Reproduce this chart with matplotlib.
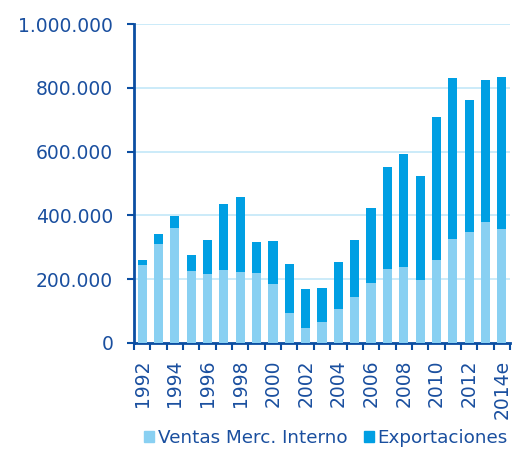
import numpy as np
import matplotlib.pyplot as plt
from matplotlib.ticker import FuncFormatter, MultipleLocator
from matplotlib.patches import Patch

years = [
    "1992", "1993", "1994", "1995", "1996", "1997", "1998", "1999", "2000",
    "2001", "2002", "2003", "2004", "2005", "2006", "2007", "2008", "2009",
    "2010", "2011", "2012", "2013", "2014e",
]
ventas_interno = [
    243000, 310000, 360000, 225000, 215000, 228000, 222000, 220000, 185000,
    95000, 48000, 66000, 108000, 144000, 188000, 233000, 238000, 198000,
    261000, 325000, 348000, 379000, 357000,
]
total = [
    259000, 341000, 398000, 276000, 323000, 437000, 457000, 318000, 321000,
    247000, 169000, 172000, 254000, 324000, 423000, 551000, 591000, 522000,
    710000, 832000, 763000, 823000, 835000,
]
exportaciones = [t - v for t, v in zip(total, ventas_interno)]

LIGHT = "#89d0f2"
DARK = "#009fe3"
TEXT = "#1a4f9f"
SPINE = "#0b4ea2"
GRID = "#c2e8f8"
FS = 13.5

plt.rcParams["font.family"] = ["DejaVu Sans"]

fig = plt.figure(figsize=(5.26, 4.54), dpi=100)
ax = fig.add_axes([134 / 526, 1 - 343 / 454, (510 - 134) / 526, (343 - 24) / 454])

x = np.arange(len(years))
ax.bar(x, ventas_interno, width=0.56, color=LIGHT, zorder=3)
ax.bar(x, exportaciones, width=0.56, bottom=ventas_interno, color=DARK, zorder=3)

ax.set_xlim(-0.5, len(years) - 0.5)
ax.set_ylim(0, 1000000)
ax.yaxis.set_major_locator(MultipleLocator(200000))
ax.yaxis.set_major_formatter(
    FuncFormatter(lambda v, p: f"{int(v):,}".replace(",", "."))
)
ax.grid(axis="y", color=GRID, linewidth=1.2, zorder=0)

# ticks at category boundaries, labels on every other bar
ax.set_xticks(x[::2])
ax.set_xticklabels(years[::2], rotation=90)
ax.set_xticks(np.arange(len(years) + 1) - 0.5, minor=True)
ax.tick_params(axis="x", which="major", length=0, pad=12, labelsize=FS, labelcolor=TEXT)
ax.tick_params(axis="x", which="minor", length=5, width=1.5, color=SPINE, direction="out")
ax.tick_params(axis="y", length=5, width=1.5, color=SPINE, labelsize=FS,
               labelcolor=TEXT, pad=10)

for side in ["top", "right"]:
    ax.spines[side].set_visible(False)
for side in ["left", "bottom"]:
    ax.spines[side].set_color(SPINE)
    ax.spines[side].set_linewidth(2)

handles = [
    Patch(color=LIGHT, label="Ventas Merc. Interno"),
    Patch(color=DARK, label="Exportaciones"),
]
fig.legend(
    handles=handles,
    loc="center",
    bbox_to_anchor=(326 / 526, 1 - 438 / 454),
    ncol=2,
    frameon=False,
    fontsize=13.2,
    labelcolor=TEXT,
    handlelength=0.55,
    handleheight=0.55,
    handletextpad=0.2,
    columnspacing=0.9,
    borderpad=0,
)

fig.savefig("out.png", dpi=100)
